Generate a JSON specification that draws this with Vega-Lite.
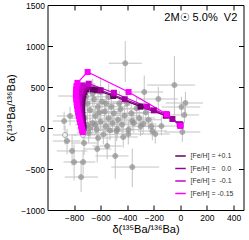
{
  "$schema": "https://vega.github.io/schema/vega-lite/v6.json",
  "width": 196,
  "height": 205,
  "autosize": {"type": "none"},
  "padding": {"left": 47.5, "top": 5, "right": 5.5, "bottom": 30},
  "config": {
    "view": {"stroke": "#000", "strokeWidth": 1},
    "font": "Liberation Sans",
    "axis": {
      "grid": false,
      "domain": false,
      "tickColor": "#000",
      "tickSize": -5,
      "labelFont": "Liberation Sans",
      "labelFontSize": 8.5,
      "labelColor": "#000",
      "titleFont": "Liberation Sans",
      "titleFontSize": 11,
      "titleFontWeight": "normal",
      "titleColor": "#000"
    },
    "legend": {
      "symbolType": "stroke",
      "symbolStrokeWidth": 1.5,
      "symbolSize": 110,
      "labelFont": "Liberation Sans",
      "labelFontSize": 7,
      "labelColor": "#333",
      "rowPadding": 3.5
    }
  },
  "datasets": {
    "grains": [
      {"x": -415, "y": 790, "xlo": -540, "xhi": -290, "ylo": 560, "yhi": 1060, "open": false},
      {"x": -272, "y": 439, "xlo": -420, "xhi": -130, "ylo": 250, "yhi": 640, "open": false},
      {"x": -166, "y": 354, "xlo": -330, "xhi": -20, "ylo": 200, "yhi": 500, "open": false},
      {"x": -45, "y": 524, "xlo": -250, "xhi": 110, "ylo": 150, "yhi": 880, "open": false},
      {"x": 38, "y": 305, "xlo": -110, "xhi": 170, "ylo": 180, "yhi": 440, "open": false},
      {"x": 8, "y": 256, "xlo": -140, "xhi": 150, "ylo": 130, "yhi": 380, "open": false},
      {"x": 30, "y": 159, "xlo": -100, "xhi": 140, "ylo": 60, "yhi": 260, "open": false},
      {"x": 15, "y": -49, "xlo": -120, "xhi": 150, "ylo": -170, "yhi": 70, "open": false},
      {"x": -490, "y": -341, "xlo": -640, "xhi": -390, "ylo": -620, "yhi": -80, "open": false},
      {"x": -362, "y": -476, "xlo": -520, "xhi": -160, "ylo": -720, "yhi": -250, "open": false},
      {"x": -875, "y": 85, "xlo": -960, "xhi": -790, "ylo": -30, "yhi": 200, "open": false},
      {"x": -853, "y": -159, "xlo": -960, "xhi": -750, "ylo": -320, "yhi": -10, "open": false},
      {"x": -815, "y": -280, "xlo": -930, "xhi": -700, "ylo": -460, "yhi": -100, "open": false},
      {"x": -800, "y": -415, "xlo": -880, "xhi": -720, "ylo": -640, "yhi": -200, "open": false},
      {"x": -732, "y": -415, "xlo": -830, "xhi": -640, "ylo": -560, "yhi": -270, "open": false},
      {"x": -747, "y": -598, "xlo": -870, "xhi": -620, "ylo": -780, "yhi": -420, "open": false},
      {"x": -725, "y": -183, "xlo": -820, "xhi": -630, "ylo": -330, "yhi": -40, "open": false},
      {"x": -619, "y": -122, "xlo": -720, "xhi": -520, "ylo": -270, "yhi": 20, "open": false},
      {"x": -626, "y": -256, "xlo": -730, "xhi": -520, "ylo": -420, "yhi": -100, "open": false},
      {"x": -551, "y": -220, "xlo": -660, "xhi": -440, "ylo": -380, "yhi": -60, "open": false},
      {"x": -430, "y": -110, "xlo": -540, "xhi": -320, "ylo": -240, "yhi": 20, "open": false},
      {"x": -392, "y": -73, "xlo": -500, "xhi": -280, "ylo": -200, "yhi": 50, "open": false},
      {"x": -211, "y": -37, "xlo": -320, "xhi": -100, "ylo": -150, "yhi": 80, "open": false},
      {"x": -189, "y": -73, "xlo": -300, "xhi": -80, "ylo": -190, "yhi": 40, "open": false},
      {"x": -143, "y": 24, "xlo": -260, "xhi": -30, "ylo": -90, "yhi": 140, "open": false},
      {"x": -475, "y": -12, "xlo": -580, "xhi": -370, "ylo": -130, "yhi": 110, "open": false},
      {"x": -362, "y": 85, "xlo": -480, "xhi": -240, "ylo": -40, "yhi": 210, "open": false},
      {"x": -309, "y": 122, "xlo": -430, "xhi": -190, "ylo": 0, "yhi": 250, "open": false},
      {"x": -830, "y": 146, "xlo": -930, "xhi": -730, "ylo": 30, "yhi": 260, "open": false},
      {"x": -780, "y": 390, "xlo": -920, "xhi": -650, "ylo": 280, "yhi": 500, "open": false},
      {"x": -868, "y": -85, "xlo": -960, "xhi": -780, "ylo": -200, "yhi": 30, "open": true},
      {"x": -732, "y": -85, "xlo": -820, "xhi": -640, "ylo": -200, "yhi": 30, "open": true},
      {"x": -700, "y": 300, "xlo": -800, "xhi": -600, "ylo": 150, "yhi": 450, "open": false},
      {"x": -680, "y": 220, "xlo": -790, "xhi": -570, "ylo": 90, "yhi": 350, "open": false},
      {"x": -650, "y": 350, "xlo": -780, "xhi": -520, "ylo": 180, "yhi": 550, "open": false},
      {"x": -640, "y": 150, "xlo": -730, "xhi": -550, "ylo": 40, "yhi": 260, "open": false},
      {"x": -620, "y": 260, "xlo": -740, "xhi": -500, "ylo": 100, "yhi": 420, "open": false},
      {"x": -600, "y": 80, "xlo": -690, "xhi": -510, "ylo": -40, "yhi": 200, "open": false},
      {"x": -590, "y": 320, "xlo": -710, "xhi": -470, "ylo": 170, "yhi": 470, "open": false},
      {"x": -570, "y": 200, "xlo": -680, "xhi": -460, "ylo": 60, "yhi": 340, "open": false},
      {"x": -560, "y": 20, "xlo": -660, "xhi": -460, "ylo": -100, "yhi": 140, "open": false},
      {"x": -540, "y": 120, "xlo": -650, "xhi": -430, "ylo": -10, "yhi": 250, "open": false},
      {"x": -520, "y": 260, "xlo": -640, "xhi": -400, "ylo": 110, "yhi": 410, "open": false},
      {"x": -510, "y": 60, "xlo": -610, "xhi": -410, "ylo": -60, "yhi": 180, "open": false},
      {"x": -500, "y": 180, "xlo": -620, "xhi": -380, "ylo": 40, "yhi": 320, "open": false},
      {"x": -480, "y": -40, "xlo": -580, "xhi": -380, "ylo": -160, "yhi": 80, "open": false},
      {"x": -470, "y": 100, "xlo": -580, "xhi": -360, "ylo": -30, "yhi": 230, "open": false},
      {"x": -450, "y": 230, "xlo": -570, "xhi": -330, "ylo": 80, "yhi": 380, "open": false},
      {"x": -440, "y": 40, "xlo": -540, "xhi": -340, "ylo": -80, "yhi": 160, "open": false},
      {"x": -420, "y": 150, "xlo": -530, "xhi": -310, "ylo": 20, "yhi": 280, "open": false},
      {"x": -400, "y": 300, "xlo": -530, "xhi": -270, "ylo": 140, "yhi": 460, "open": false},
      {"x": -390, "y": -20, "xlo": -490, "xhi": -290, "ylo": -140, "yhi": 100, "open": false},
      {"x": -370, "y": 180, "xlo": -480, "xhi": -260, "ylo": 50, "yhi": 310, "open": false},
      {"x": -350, "y": 60, "xlo": -450, "xhi": -250, "ylo": -60, "yhi": 180, "open": false},
      {"x": -330, "y": 240, "xlo": -450, "xhi": -210, "ylo": 90, "yhi": 390, "open": false},
      {"x": -300, "y": 20, "xlo": -400, "xhi": -200, "ylo": -100, "yhi": 140, "open": false},
      {"x": -280, "y": 50, "xlo": -380, "xhi": -180, "ylo": -70, "yhi": 170, "open": false},
      {"x": -260, "y": 190, "xlo": -370, "xhi": -150, "ylo": 60, "yhi": 320, "open": false},
      {"x": -240, "y": 100, "xlo": -340, "xhi": -140, "ylo": -20, "yhi": 220, "open": false},
      {"x": -220, "y": 20, "xlo": -320, "xhi": -120, "ylo": -90, "yhi": 130, "open": false},
      {"x": -700, "y": 40, "xlo": -790, "xhi": -610, "ylo": -70, "yhi": 150, "open": false},
      {"x": -690, "y": -60, "xlo": -780, "xhi": -600, "ylo": -180, "yhi": 60, "open": false},
      {"x": -660, "y": 60, "xlo": -760, "xhi": -560, "ylo": -60, "yhi": 180, "open": false},
      {"x": -630, "y": -20, "xlo": -730, "xhi": -530, "ylo": -140, "yhi": 100, "open": false},
      {"x": -580, "y": -80, "xlo": -680, "xhi": -480, "ylo": -200, "yhi": 40, "open": false},
      {"x": -720, "y": 120, "xlo": -820, "xhi": -620, "ylo": 0, "yhi": 240, "open": false},
      {"x": -710, "y": 380, "xlo": -820, "xhi": -600, "ylo": 230, "yhi": 530, "open": false},
      {"x": -660, "y": 420, "xlo": -780, "xhi": -540, "ylo": 260, "yhi": 600, "open": false},
      {"x": -600, "y": 440, "xlo": -720, "xhi": -480, "ylo": 290, "yhi": 620, "open": false},
      {"x": -540, "y": 380, "xlo": -660, "xhi": -420, "ylo": 230, "yhi": 540, "open": false},
      {"x": -680, "y": 0, "xlo": -780, "xhi": -580, "ylo": -120, "yhi": 120, "open": false},
      {"x": -610, "y": 190, "xlo": -720, "xhi": -500, "ylo": 60, "yhi": 320, "open": false},
      {"x": -560, "y": 300, "xlo": -670, "xhi": -450, "ylo": 160, "yhi": 440, "open": false},
      {"x": -640, "y": 40, "xlo": -740, "xhi": -540, "ylo": -80, "yhi": 160, "open": false},
      {"x": -530, "y": -30, "xlo": -630, "xhi": -430, "ylo": -150, "yhi": 90, "open": false},
      {"x": -460, "y": 300, "xlo": -580, "xhi": -340, "ylo": 150, "yhi": 450, "open": false}
    ],
    "model": [
      {"feh": "[Fe/H] = +0.1", "i": 1, "x": -728, "y": 0},
      {"feh": "[Fe/H] = +0.1", "i": 2, "x": -731, "y": 40},
      {"feh": "[Fe/H] = +0.1", "i": 3, "x": -734, "y": 80},
      {"feh": "[Fe/H] = +0.1", "i": 4, "x": -736, "y": 120},
      {"feh": "[Fe/H] = +0.1", "i": 5, "x": -738, "y": 160},
      {"feh": "[Fe/H] = +0.1", "i": 6, "x": -739, "y": 200},
      {"feh": "[Fe/H] = +0.1", "i": 7, "x": -740, "y": 240},
      {"feh": "[Fe/H] = +0.1", "i": 8, "x": -739, "y": 280},
      {"feh": "[Fe/H] = +0.1", "i": 9, "x": -738, "y": 320},
      {"feh": "[Fe/H] = +0.1", "i": 10, "x": -735, "y": 360},
      {"feh": "[Fe/H] = +0.1", "i": 11, "x": -730, "y": 400},
      {"feh": "[Fe/H] = +0.1", "i": 12, "x": -722, "y": 440},
      {"feh": "[Fe/H] = +0.1", "i": 13, "x": -710, "y": 470},
      {"feh": "[Fe/H] = +0.1", "i": 14, "x": -662, "y": 470},
      {"feh": "[Fe/H] = +0.1", "i": 15, "x": -630, "y": 462},
      {"feh": "[Fe/H] = +0.1", "i": 16, "x": -505, "y": 390},
      {"feh": "[Fe/H] = +0.1", "i": 17, "x": -300, "y": 260},
      {"feh": "[Fe/H] = +0.1", "i": 18, "x": -110, "y": 150},
      {"feh": "[Fe/H] = +0.1", "i": 19, "x": -5, "y": 45},
      {"feh": "[Fe/H] =\u00a0\u00a0 0.0", "i": 1, "x": -735, "y": -10},
      {"feh": "[Fe/H] =\u00a0\u00a0 0.0", "i": 2, "x": -739, "y": 30},
      {"feh": "[Fe/H] =\u00a0\u00a0 0.0", "i": 3, "x": -742, "y": 70},
      {"feh": "[Fe/H] =\u00a0\u00a0 0.0", "i": 4, "x": -745, "y": 110},
      {"feh": "[Fe/H] =\u00a0\u00a0 0.0", "i": 5, "x": -748, "y": 150},
      {"feh": "[Fe/H] =\u00a0\u00a0 0.0", "i": 6, "x": -750, "y": 190},
      {"feh": "[Fe/H] =\u00a0\u00a0 0.0", "i": 7, "x": -752, "y": 230},
      {"feh": "[Fe/H] =\u00a0\u00a0 0.0", "i": 8, "x": -753, "y": 270},
      {"feh": "[Fe/H] =\u00a0\u00a0 0.0", "i": 9, "x": -752, "y": 310},
      {"feh": "[Fe/H] =\u00a0\u00a0 0.0", "i": 10, "x": -750, "y": 350},
      {"feh": "[Fe/H] =\u00a0\u00a0 0.0", "i": 11, "x": -746, "y": 390},
      {"feh": "[Fe/H] =\u00a0\u00a0 0.0", "i": 12, "x": -739, "y": 425},
      {"feh": "[Fe/H] =\u00a0\u00a0 0.0", "i": 13, "x": -730, "y": 460},
      {"feh": "[Fe/H] =\u00a0\u00a0 0.0", "i": 14, "x": -700, "y": 500},
      {"feh": "[Fe/H] =\u00a0\u00a0 0.0", "i": 15, "x": -600, "y": 460},
      {"feh": "[Fe/H] =\u00a0\u00a0 0.0", "i": 16, "x": -420, "y": 350},
      {"feh": "[Fe/H] =\u00a0\u00a0 0.0", "i": 17, "x": -200, "y": 215},
      {"feh": "[Fe/H] =\u00a0\u00a0 0.0", "i": 18, "x": -60, "y": 110},
      {"feh": "[Fe/H] =\u00a0\u00a0 0.0", "i": 19, "x": 0, "y": 40},
      {"feh": "[Fe/H] =\u00a0 -0.1", "i": 1, "x": -738, "y": -30},
      {"feh": "[Fe/H] =\u00a0 -0.1", "i": 2, "x": -743, "y": 10},
      {"feh": "[Fe/H] =\u00a0 -0.1", "i": 3, "x": -748, "y": 50},
      {"feh": "[Fe/H] =\u00a0 -0.1", "i": 4, "x": -752, "y": 90},
      {"feh": "[Fe/H] =\u00a0 -0.1", "i": 5, "x": -756, "y": 130},
      {"feh": "[Fe/H] =\u00a0 -0.1", "i": 6, "x": -759, "y": 170},
      {"feh": "[Fe/H] =\u00a0 -0.1", "i": 7, "x": -762, "y": 210},
      {"feh": "[Fe/H] =\u00a0 -0.1", "i": 8, "x": -764, "y": 250},
      {"feh": "[Fe/H] =\u00a0 -0.1", "i": 9, "x": -766, "y": 290},
      {"feh": "[Fe/H] =\u00a0 -0.1", "i": 10, "x": -766, "y": 330},
      {"feh": "[Fe/H] =\u00a0 -0.1", "i": 11, "x": -765, "y": 370},
      {"feh": "[Fe/H] =\u00a0 -0.1", "i": 12, "x": -761, "y": 410},
      {"feh": "[Fe/H] =\u00a0 -0.1", "i": 13, "x": -755, "y": 450},
      {"feh": "[Fe/H] =\u00a0 -0.1", "i": 14, "x": -746, "y": 485},
      {"feh": "[Fe/H] =\u00a0 -0.1", "i": 15, "x": -735, "y": 520},
      {"feh": "[Fe/H] =\u00a0 -0.1", "i": 16, "x": -690, "y": 540},
      {"feh": "[Fe/H] =\u00a0 -0.1", "i": 17, "x": -500, "y": 430},
      {"feh": "[Fe/H] =\u00a0 -0.1", "i": 18, "x": -250, "y": 260},
      {"feh": "[Fe/H] =\u00a0 -0.1", "i": 19, "x": -100, "y": 160},
      {"feh": "[Fe/H] =\u00a0 -0.1", "i": 20, "x": 0, "y": 30},
      {"feh": "[Fe/H] = -0.15", "i": 1, "x": -735, "y": -50},
      {"feh": "[Fe/H] = -0.15", "i": 2, "x": -742, "y": -10},
      {"feh": "[Fe/H] = -0.15", "i": 3, "x": -748, "y": 30},
      {"feh": "[Fe/H] = -0.15", "i": 4, "x": -754, "y": 70},
      {"feh": "[Fe/H] = -0.15", "i": 5, "x": -760, "y": 110},
      {"feh": "[Fe/H] = -0.15", "i": 6, "x": -765, "y": 150},
      {"feh": "[Fe/H] = -0.15", "i": 7, "x": -770, "y": 190},
      {"feh": "[Fe/H] = -0.15", "i": 8, "x": -774, "y": 230},
      {"feh": "[Fe/H] = -0.15", "i": 9, "x": -778, "y": 270},
      {"feh": "[Fe/H] = -0.15", "i": 10, "x": -781, "y": 310},
      {"feh": "[Fe/H] = -0.15", "i": 11, "x": -784, "y": 350},
      {"feh": "[Fe/H] = -0.15", "i": 12, "x": -786, "y": 390},
      {"feh": "[Fe/H] = -0.15", "i": 13, "x": -786, "y": 430},
      {"feh": "[Fe/H] = -0.15", "i": 14, "x": -785, "y": 470},
      {"feh": "[Fe/H] = -0.15", "i": 15, "x": -782, "y": 510},
      {"feh": "[Fe/H] = -0.15", "i": 16, "x": -775, "y": 550},
      {"feh": "[Fe/H] = -0.15", "i": 17, "x": -698, "y": 683},
      {"feh": "[Fe/H] = -0.15", "i": 18, "x": -390, "y": 439},
      {"feh": "[Fe/H] = -0.15", "i": 19, "x": -105, "y": 171},
      {"feh": "[Fe/H] = -0.15", "i": 20, "x": 0, "y": 25}
    ],
    "note": [{"x": 428, "y": 1305, "t": "2M☉ 5.0%\u00a0 V2"}]
  },
  "layer": [
    {
      "data": {"name": "grains"},
      "mark": {"type": "rule", "color": "#c4c4c4", "strokeWidth": 1},
      "encoding": {
        "x": {"field": "xlo", "type": "quantitative", "scale": {"domain": [-1000, 475], "nice": false, "zero": false},
              "axis": {"orient": "bottom", "values": [-800, -600, -400, -200, 0, 200, 400], "format": "d", "title": "δ(¹³⁵Ba/¹³⁶Ba)", "labelPadding": 8, "titlePadding": 2}},
        "x2": {"field": "xhi"},
        "y": {"field": "y", "type": "quantitative", "scale": {"domain": [-1000, 1500], "nice": false, "zero": false},
              "axis": {"orient": "left", "values": [-1000, -500, 0, 500, 1000, 1500], "format": "d", "title": "δ(¹³⁴Ba/¹³⁶Ba)", "labelPadding": 8, "titlePadding": 4}}
      }
    },
    {
      "data": {"name": "grains"},
      "mark": {"type": "rule", "color": "#c4c4c4", "strokeWidth": 1},
      "encoding": {
        "x": {"field": "x", "type": "quantitative", "axis": {"orient": "top", "values": [-800, -600, -400, -200, 0, 200, 400], "labels": false, "title": null}},
        "y": {"field": "ylo", "type": "quantitative", "axis": {"orient": "right", "values": [-1000, -500, 0, 500, 1000, 1500], "labels": false, "title": null}},
        "y2": {"field": "yhi"}
      }
    },
    {
      "data": {"name": "grains"},
      "mark": {"type": "point", "shape": "circle", "size": 25, "strokeWidth": 1, "stroke": "#8f8f8f"},
      "encoding": {
        "x": {"field": "x", "type": "quantitative", "axis": null},
        "y": {"field": "y", "type": "quantitative", "axis": null},
        "fill": {"field": "open", "type": "nominal", "scale": {"domain": [false, true], "range": ["#8f8f8f", "#ffffff"]}, "legend": null},
        "fillOpacity": {"value": 1}
      }
    },
    {
      "data": {"name": "model"},
      "mark": {"type": "line", "strokeWidth": 1.2},
      "encoding": {
        "x": {"field": "x", "type": "quantitative", "axis": null},
        "y": {"field": "y", "type": "quantitative", "axis": null},
        "order": {"field": "i", "type": "quantitative"},
        "color": {"field": "feh", "type": "nominal",
                  "scale": {"domain": ["[Fe/H] = +0.1", "[Fe/H] =\u00a0\u00a0 0.0", "[Fe/H] =\u00a0 -0.1", "[Fe/H] = -0.15"], "range": ["#660066", "#990099", "#cc00cc", "#ff00ff"]},
                  "legend": {"title": null, "orient": "none", "legendX": 127, "legendY": 145}}
      }
    },
    {
      "data": {"name": "model"},
      "mark": {"type": "square", "size": 36, "opacity": 1},
      "encoding": {
        "x": {"field": "x", "type": "quantitative", "axis": null},
        "y": {"field": "y", "type": "quantitative", "axis": null},
        "color": {"field": "feh", "type": "nominal", "legend": null}
      }
    },
    {
      "data": {"name": "note"},
      "mark": {"type": "text", "align": "right", "baseline": "alphabetic", "fontSize": 11, "font": "Liberation Sans", "color": "#000"},
      "encoding": {
        "x": {"field": "x", "type": "quantitative", "axis": null},
        "y": {"field": "y", "type": "quantitative", "axis": null},
        "text": {"field": "t"}
      }
    }
  ],
  "resolve": {"axis": {"x": "independent", "y": "independent"}}
}
